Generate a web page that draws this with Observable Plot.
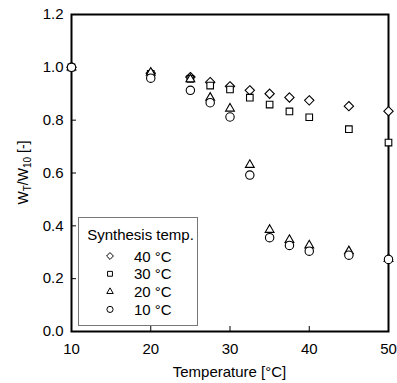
<!DOCTYPE html>
<html><head><meta charset="utf-8">
<script src="https://cdn.jsdelivr.net/npm/d3@7"></script>
<script src="https://cdn.jsdelivr.net/npm/@observablehq/plot@0.6"></script>
<style>body{margin:0;background:#fff;} #chart{width:397px;height:383px;}</style>
</head><body><div id="chart"></div>
<script>
const temperatures = [10, 20, 25, 27.5, 30, 32.5, 35, 37.5, 40, 45, 50];
const seriesNames = ["40 °C", "30 °C", "20 °C", "10 °C"];
const ratio40 = [1.0, 0.978, 0.963, 0.944, 0.928, 0.913, 0.900, 0.886, 0.875, 0.853, 0.834];
const ratio30 = [1.0, 0.975, 0.956, 0.931, 0.916, 0.885, 0.859, 0.833, 0.811, 0.766, 0.715];
const ratio20 = [1.0, 0.980, 0.955, 0.885, 0.844, 0.631, 0.385, 0.347, 0.326, 0.304, 0.275];
const ratio10 = [1.0, 0.959, 0.913, 0.866, 0.812, 0.592, 0.355, 0.326, 0.304, 0.289, 0.273];
const symbolNames = ["diamond2", "square2", "triangle2", "circle"];
const xTicks = [10, 20, 30, 40, 50];
const yTicks = [0, 0.2, 0.4, 0.6, 0.8, 1.0, 1.2];
const legendTitle = "Synthesis temp.";
const xLabel = "Temperature [°C]";

const allRatios = [ratio40, ratio30, ratio20, ratio10];
const data = [];
// draw 40 °C first, 10 °C last (on top)
seriesNames.forEach((s, i) => {
  temperatures.forEach((t, j) => data.push({series: s, t, v: allRatios[i][j]}));
});

const W = 397, H = 383, mL = 71, mR = 9, mT = 14, mB = 52;
const font = "'Liberation Sans', Arial, sans-serif";

const chart = Plot.plot({
  width: W, height: H,
  marginLeft: mL, marginRight: mR, marginTop: mT, marginBottom: mB,
  style: {fontFamily: font, fontSize: "15px", color: "black", background: "white"},
  x: {domain: [10, 50]},
  y: {domain: [0, 1.2]},
  symbol: {domain: seriesNames, range: symbolNames},
  marks: [
    Plot.axisX({ticks: xTicks, tickSize: -5, tickPadding: 17, label: null, tickFormat: d3.format("d")}),
    Plot.axisY({ticks: yTicks, tickSize: -5, tickPadding: 13, label: null, tickFormat: d3.format(".1f")}),
    Plot.frame({stroke: "black", strokeWidth: 2}),
    Plot.dot(data, {x: "t", y: "v", symbol: "series", r: 4.2, stroke: "black", fill: "white", strokeWidth: 1.1, clip: false})
  ]
});
document.getElementById("chart").appendChild(chart);

const svg = d3.select(chart);
// x label
svg.append("text").attr("x", (mL + W - mR) / 2).attr("y", 377)
  .attr("text-anchor", "middle").attr("font-family", font).attr("font-size", 15).attr("fill", "black")
  .text(xLabel);
// y label with subscripts
const yl = svg.append("text")
  .attr("transform", `translate(28,${(mT + H - mB) / 2}) rotate(-90)`)
  .attr("text-anchor", "middle").attr("font-family", font).attr("font-size", 14).attr("fill", "black");
yl.append("tspan").text("W");
yl.append("tspan").attr("font-size", 10).attr("dy", 3).text("T");
yl.append("tspan").attr("dy", -3).text("/W");
yl.append("tspan").attr("font-size", 10).attr("dy", 3).text("10");
yl.append("tspan").attr("dy", -3).text(" [-]");

// legend inside the plot
const lg = svg.append("g");
lg.append("rect").attr("x", 78.5).attr("y", 217.5).attr("width", 119).attr("height", 108)
  .attr("fill", "white").attr("stroke", "#777").attr("stroke-width", 1);
lg.append("text").attr("x", 140.5).attr("y", 240).attr("text-anchor", "middle")
  .attr("font-family", font).attr("font-size", 15).attr("fill", "black").text(legendTitle);
const symMap = {diamond2: d3.symbolDiamond2, square2: d3.symbolSquare2, triangle2: d3.symbolTriangle2, circle: d3.symbolCircle};
seriesNames.forEach((s, i) => {
  const cy = 256 + i * 17.8;
  lg.append("path").attr("transform", `translate(110,${cy})`)
    .attr("d", d3.symbol(symMap[symbolNames[i]], 30)())
    .attr("fill", "white").attr("stroke", "black").attr("stroke-width", 1);
  lg.append("text").attr("x", 134).attr("y", cy + 5.5).attr("text-anchor", "start")
    .attr("font-family", font).attr("font-size", 15).attr("fill", "black").text(s);
});
</script>
</body></html>
